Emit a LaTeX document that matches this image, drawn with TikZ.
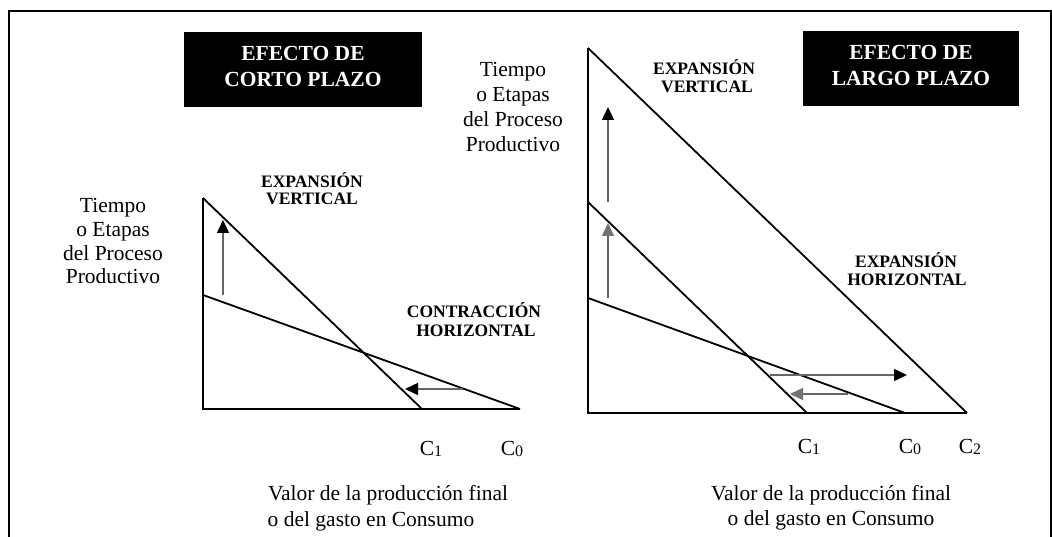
\documentclass[tikz,border=0pt]{standalone}
\usepackage{fontspec}
\setmainfont{Liberation Serif}
\usetikzlibrary{arrows.meta}
\begin{document}
\begin{tikzpicture}[x=1pt,y=-1pt,
  lbl/.style={font=\fontsize{21.5}{24}\selectfont, inner sep=0pt, anchor=base},
  caps/.style={font=\fontsize{17.5}{19}\selectfont\bfseries, inner sep=0pt, anchor=base},
  ttl/.style={font=\fontsize{21.5}{26}\selectfont\bfseries, text=white, inner sep=0pt, anchor=base},
  tbox/.style={fill=black, draw=none, inner sep=0pt, minimum width=#1, minimum height=75pt},
  frame/.style={line width=2.4pt},
  ax/.style={line width=2pt},
  ln/.style={line width=1.8pt},
  arr/.style={line width=1.5pt, draw=black!60, -{Triangle[length=13pt,width=12pt,color=#1]}},
  arr/.default=black
]
\useasboundingbox (0,0) rectangle (1052,537);
% frame
\coordinate (f1) at (9,537);
\coordinate (f2) at (9,11);
\coordinate (f3) at (1051,11);
\coordinate (f4) at (1051,537);
\draw[frame] (f1) -- (f2) -- (f3) -- (f4);

% ---------- left chart ----------
\coordinate (o1) at (203,409);
\coordinate (t1) at (203,198);
\coordinate (s1) at (203,295);
\coordinate (c1l) at (422,409);
\coordinate (c0l) at (520,409);
\draw[ax] (t1) -- (o1) -- (c0l);
\draw[ln] (t1) -- (c1l);
\draw[ln] (s1) -- (c0l);
\coordinate (ua1) at (223,295);
\coordinate (ua1t) at (223,220);
\draw[arr] (ua1) -- (ua1t);
\coordinate (la1) at (463,389);
\coordinate (la1t) at (405,389);
\draw[arr] (la1) -- (la1t);

\node[tbox=238pt] (box1) at (303,69.5) {};
\node[ttl] (t1a) at (303,61) {EFECTO DE};
\node[ttl] (t1b) at (303,87) {CORTO PLAZO};

\node[lbl] (l1a) at (113,213) {Tiempo};
\node[lbl] (l1b) at (113,237) {o Etapas};
\node[lbl] (l1c) at (113,261) {del Proceso};
\node[lbl] (l1d) at (113,284) {Productivo};

\node[caps] (e1a) at (312,188) {EXPANSIÓN};
\node[caps] (e1b) at (312,205) {VERTICAL};
\node[caps] (h1a) at (474,317) {CONTRACCIÓN};
\node[caps] (h1b) at (476,337) {HORIZONTAL};

\node[lbl] (cl1) at (431,455) {C\raisebox{-1pt}{\fontsize{16}{16}\selectfont 1}};
\node[lbl] (cl0) at (512,455) {C\raisebox{-1pt}{\fontsize{16}{16}\selectfont 0}};

\node[lbl] (v1a) at (388,500) {Valor de la producción final};
\node[lbl] (v1b) at (371,526) {o del gasto en Consumo};

% ---------- right chart ----------
\coordinate (o2) at (588,413);
\coordinate (t2) at (588,48);
\coordinate (m2) at (588,202);
\coordinate (s2) at (588,298);
\coordinate (c1r) at (807,413);
\coordinate (c0r) at (905,413);
\coordinate (c2r) at (967,413);
\draw[ax] (t2) -- (o2) -- (c2r);
\draw[ln] (t2) -- (c2r);
\draw[ln] (m2) -- (c1r);
\draw[ln] (s2) -- (c0r);
\coordinate (ua2) at (608,202);
\coordinate (ua2t) at (608,107);
\draw[arr] (ua2) -- (ua2t);
\coordinate (ub2) at (608,298);
\coordinate (ub2t) at (608,223);
\draw[arr=black!55] (ub2) -- (ub2t);
\coordinate (ra2) at (770,375);
\coordinate (ra2t) at (907,375);
\draw[arr] (ra2) -- (ra2t);
\coordinate (la2) at (848,394);
\coordinate (la2t) at (790,394);
\draw[arr=black!55] (la2) -- (la2t);

\node[tbox=216pt] (box2) at (911,69) {};
\node[ttl] (t2a) at (911,60) {EFECTO DE};
\node[ttl] (t2b) at (911,86) {LARGO PLAZO};

\node[lbl] (l2a) at (513,77) {Tiempo};
\node[lbl] (l2b) at (513,102) {o Etapas};
\node[lbl] (l2c) at (513,127) {del Proceso};
\node[lbl] (l2d) at (513,152) {Productivo};

\node[caps] (e2a) at (704,75) {EXPANSIÓN};
\node[caps] (e2b) at (707,93) {VERTICAL};
\node[caps] (h2a) at (906,268) {EXPANSIÓN};
\node[caps] (h2b) at (907,286) {HORIZONTAL};

\node[lbl] (cr1) at (809,453) {C\raisebox{-1pt}{\fontsize{16}{16}\selectfont 1}};
\node[lbl] (cr0) at (910,453) {C\raisebox{-1pt}{\fontsize{16}{16}\selectfont 0}};
\node[lbl] (cr2) at (970,453) {C\raisebox{-1pt}{\fontsize{16}{16}\selectfont 2}};

\node[lbl] (v2a) at (831,500) {Valor de la producción final};
\node[lbl] (v2b) at (831,525) {o del gasto en Consumo};
\end{tikzpicture}
\end{document}
